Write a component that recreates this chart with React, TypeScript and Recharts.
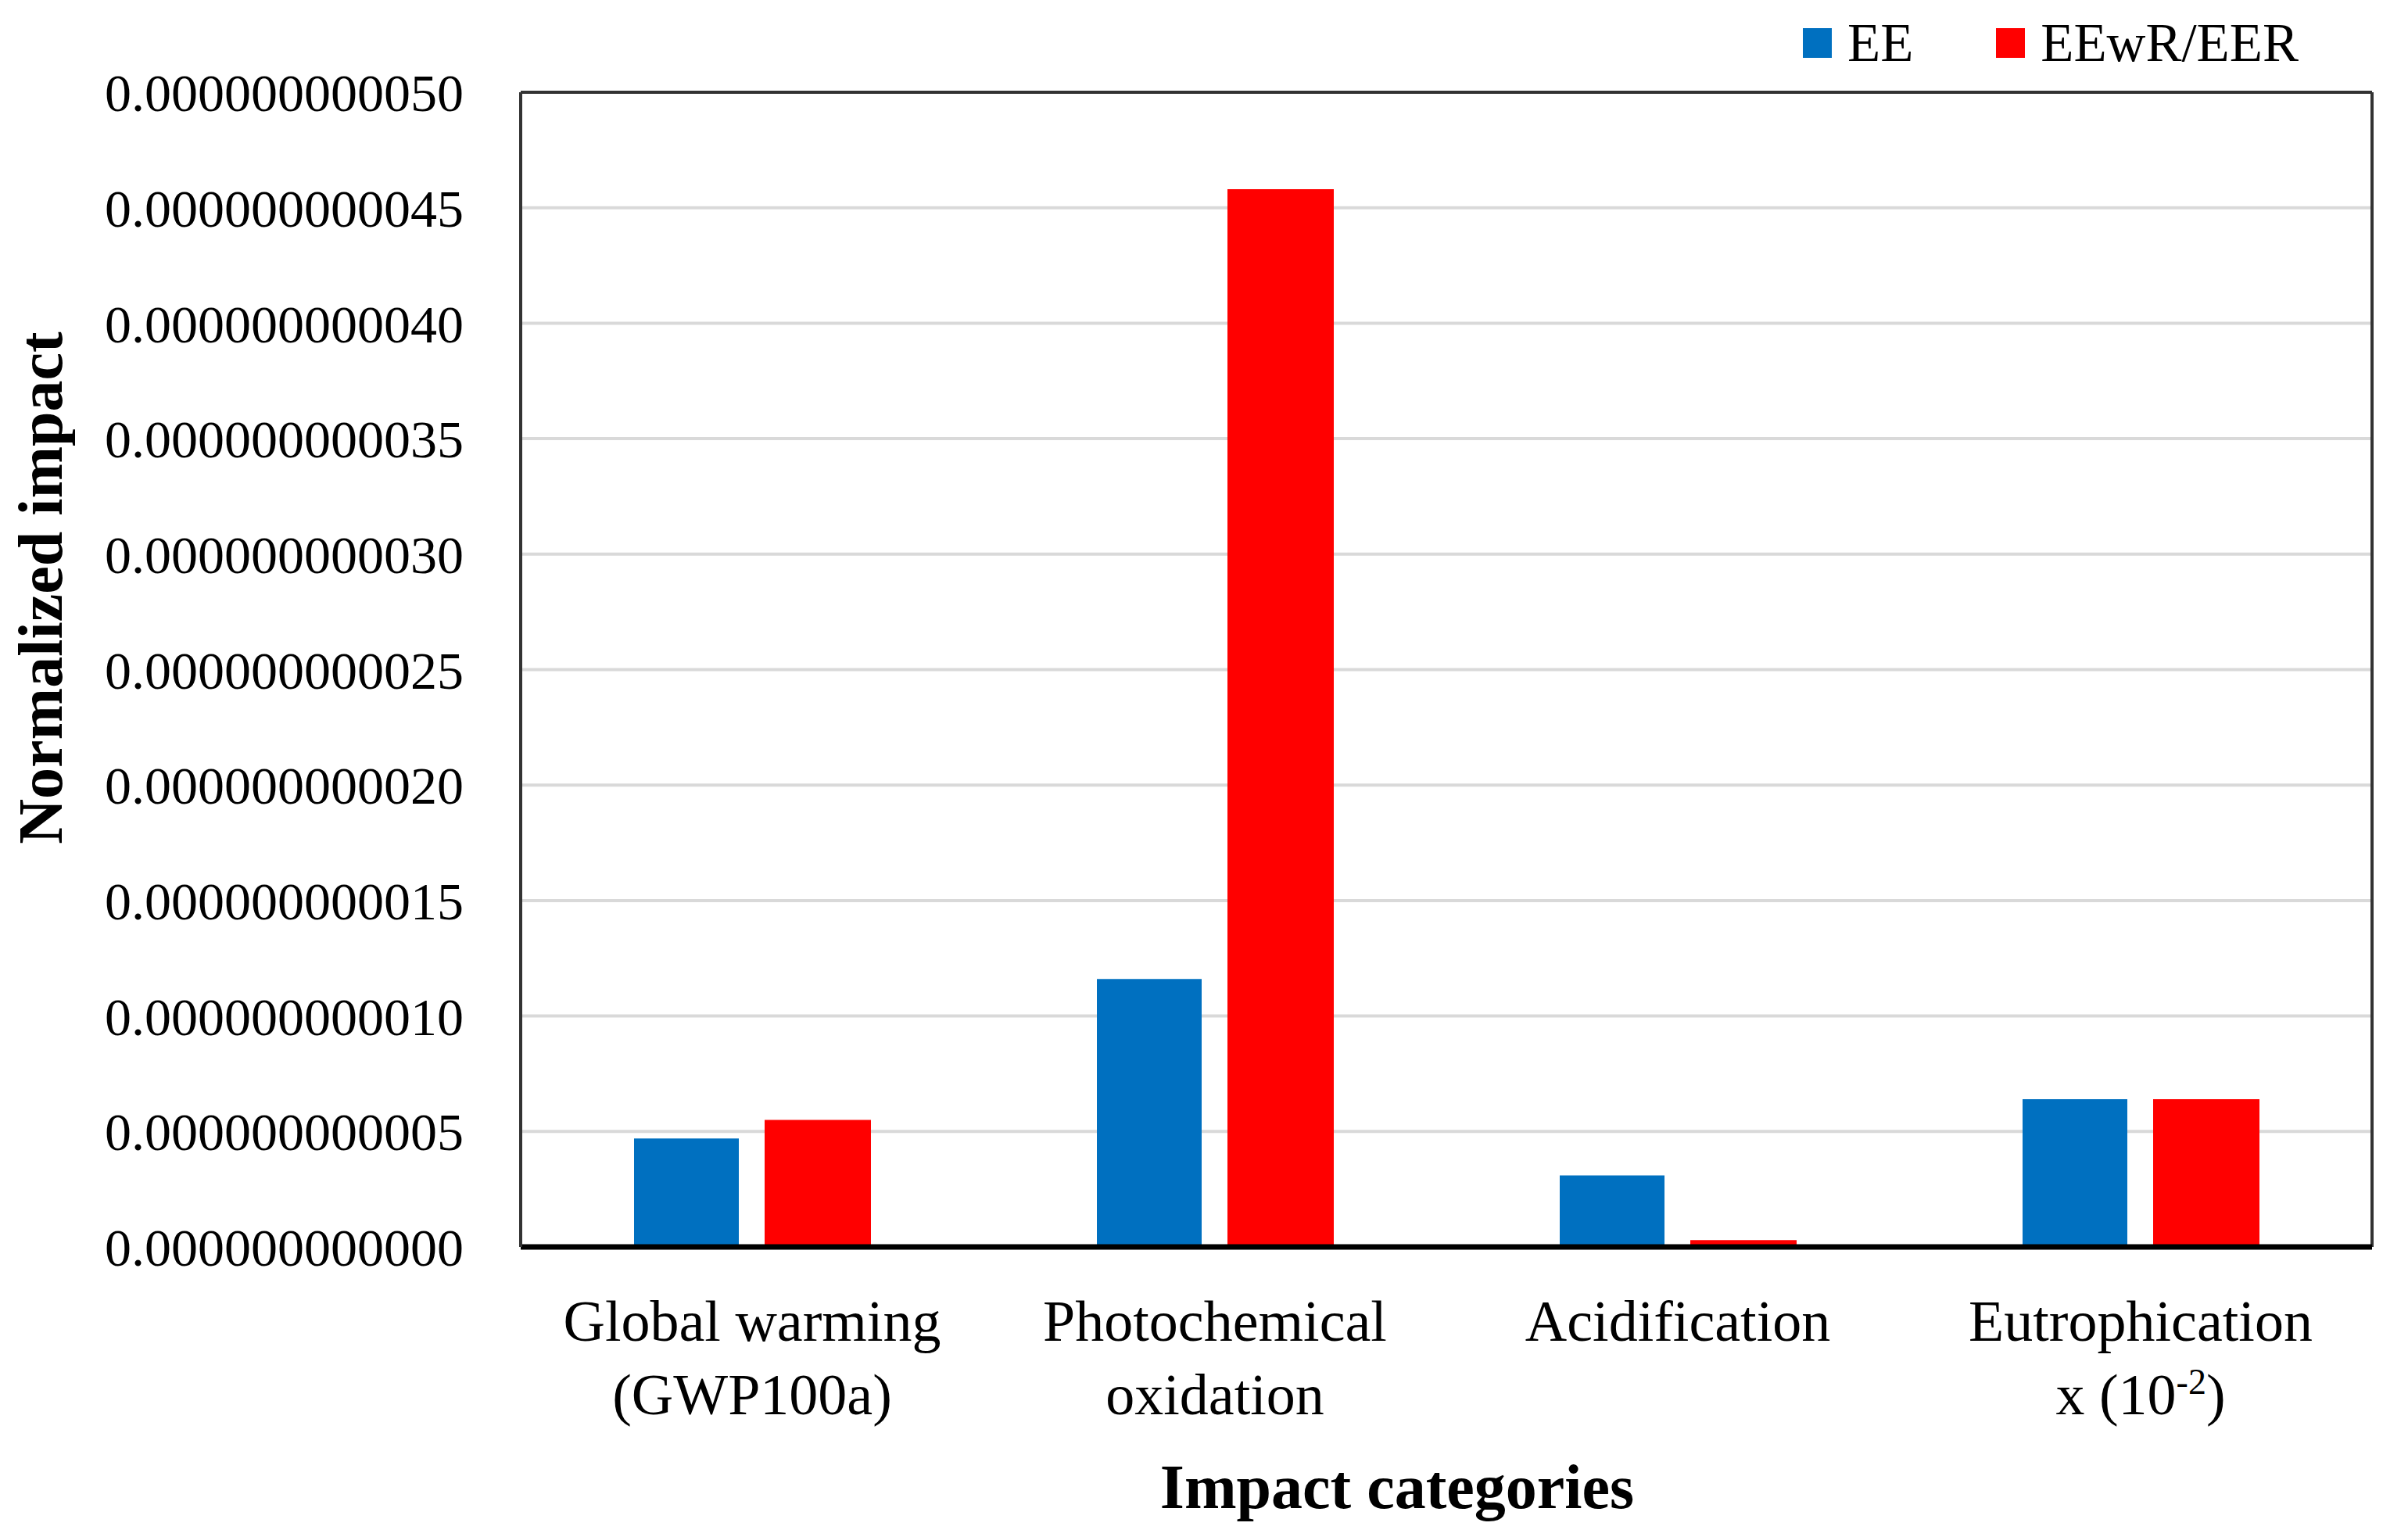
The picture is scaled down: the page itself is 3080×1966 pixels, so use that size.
import React from 'react';
import { BarChart, Bar, XAxis, YAxis, CartesianGrid, Legend, Label } from 'recharts';

const FONT = '"Liberation Serif", "DejaVu Serif", serif';

// impact categories, one per group of bars
const categories = ['Global warming', 'Photochemical oxidation', 'Acidification', 'Eutrophication'];
// lines of each category tick label ("^" wraps a superscript)
const tickLines = [
  ['Global warming', '(GWP100a)'],
  ['Photochemical', 'oxidation'],
  ['Acidification'],
  ['Eutrophication', 'x (10^-2^)'],
];
const eeValues = [4.7e-12, 11.6e-12, 3.1e-12, 6.4e-12];
const eerValues = [5.5e-12, 45.8e-12, 0.3e-12, 6.4e-12];
const yTicks = [0, 5e-12, 10e-12, 15e-12, 20e-12, 25e-12, 30e-12, 35e-12, 40e-12, 45e-12, 50e-12];

const data = categories.map((c, i) => ({
  name: c,
  EE: eeValues[i],
  'EEwR/EER': eerValues[i],
}));

function CategoryTick(props: any) {
  const { x, y, index } = props;
  const lines: string[] = tickLines[index] || [];
  return (
    <g>
      {lines.map((line, i) => {
        const parts = line.split('^');
        return (
          <text key={i} x={x} y={y + 118 + i * 94} textAnchor="middle" fontFamily={FONT} fontSize={74} fill="#000">
            {parts.length > 2 ? (
              <>
                <tspan>{parts[0]}</tspan>
                <tspan dy={-26} fontSize={46}>{parts[1]}</tspan>
                <tspan dy={26}>{parts[2]}</tspan>
              </>
            ) : (
              line
            )}
          </text>
        );
      })}
    </g>
  );
}

function LegendContent(props: any) {
  const { payload = [] } = props;
  return (
    <div
      style={{
        position: 'absolute',
        left: 2306,
        top: 20,
        display: 'flex',
        alignItems: 'center',
        whiteSpace: 'nowrap',
        fontFamily: FONT,
        fontSize: 69,
        lineHeight: '70px',
        color: '#000',
      }}
    >
      {payload.map((p: any, i: number) => (
        <div key={p.value} style={{ display: 'flex', alignItems: 'center', marginRight: i < payload.length - 1 ? 106 : 0 }}>
          <span style={{ display: 'inline-block', width: 37, height: 38, background: p.color, marginRight: 20 }} />
          <span>{p.value}</span>
        </div>
      ))}
    </div>
  );
}

export default function App() {
  return (
    <div style={{ position: 'absolute', left: 0, top: 0, background: '#fff' }}>
      <BarChart
        width={3080}
        height={1966}
        data={data}
        margin={{ top: 118, right: 46, bottom: 0, left: 0 }}
        barGap={33}
      >
        <CartesianGrid vertical={false} stroke="#d9d9d9" strokeWidth={4} />
        {/* frame: top and right edges of the plot */}
        <CartesianGrid
          stroke="#333"
          strokeWidth={4}
          horizontalCoordinatesGenerator={({ offset }: any) => [offset.top]}
          verticalCoordinatesGenerator={({ offset }: any) => [offset.left + offset.width]}
        />
        <XAxis
          dataKey="name"
          height={371}
          interval={0}
          tickLine={false}
          tickSize={0}
          axisLine={{ stroke: '#000', strokeWidth: 7 }}
          tick={<CategoryTick />}
        >
          <Label
            content={() => (
              <text x={1787} y={1929} textAnchor="middle" fontFamily={FONT} fontSize={80} fontWeight="bold" fill="#000">
                Impact categories
              </text>
            )}
          />
        </XAxis>
        <YAxis
          width={666}
          domain={[0, 50e-12]}
          ticks={yTicks}
          interval={0}
          tickLine={false}
          tickSize={0}
          tickMargin={73}
          axisLine={{ stroke: '#333', strokeWidth: 4 }}
          tick={{ fill: '#000', fontSize: 68, fontFamily: FONT }}
          tickFormatter={(v: number) => v.toFixed(12)}
        >
          <Label
            content={() => (
              <text
                x={79}
                y={752}
                transform="rotate(-90, 79, 752)"
                textAnchor="middle"
                fontFamily={FONT}
                fontSize={80}
                fontWeight="bold"
                fill="#000"
              >
                Normalized impact
              </text>
            )}
          />
        </YAxis>
        <Legend
          content={<LegendContent />}
          wrapperStyle={{ position: 'absolute', top: 0, left: 0, width: 0, height: 0, overflow: 'visible' }}
        />
        <Bar dataKey="EE" fill="#0070C0" barSize={134} isAnimationActive={false} />
        <Bar dataKey="EEwR/EER" fill="#FF0000" barSize={136} isAnimationActive={false} />
      </BarChart>
    </div>
  );
}
